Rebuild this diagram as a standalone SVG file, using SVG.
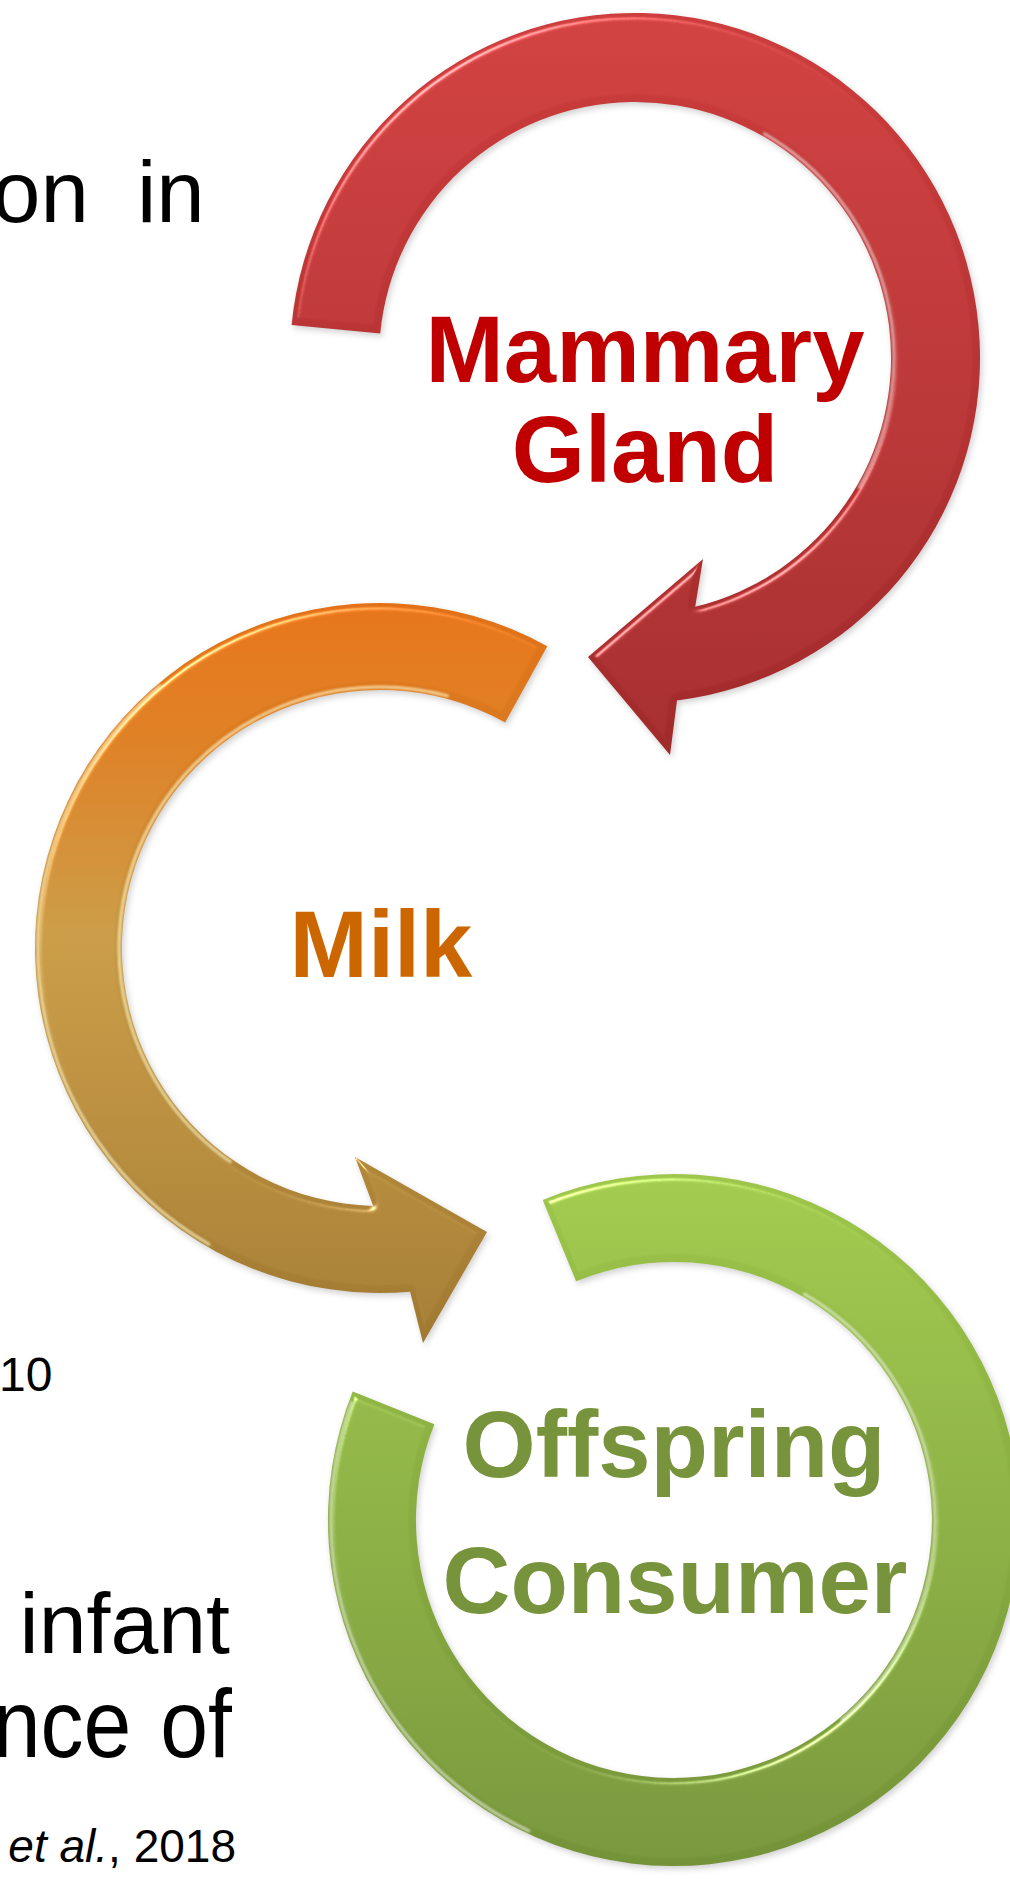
<svg xmlns="http://www.w3.org/2000/svg" width="1010" height="1879" viewBox="0 0 1010 1879">
  <style>
    .bg { font-family: "Liberation Sans", Arial, sans-serif; fill: #000; }
    .lbl { font-family: "Liberation Sans", Arial, sans-serif; font-weight: bold; font-size: 94px; text-anchor: middle; }
    .arrow { filter: url(#bevel); }
    .hl { fill: none; stroke: #FFFFFF; stroke-width: 3; stroke-linecap: round; stroke-opacity: 0.55; filter: url(#soft); }
    .hly { fill: none; stroke: #FFF6C8; stroke-width: 3; stroke-linecap: round; stroke-opacity: 0.7; filter: url(#soft); }
  </style>
  <defs>
    <linearGradient id="gRed" gradientUnits="userSpaceOnUse" x1="0" y1="10" x2="0" y2="760">
      <stop offset="0" stop-color="#CD3D3D"/>
      <stop offset="1" stop-color="#A12A2B"/>
    </linearGradient>
    <linearGradient id="gOrange" gradientUnits="userSpaceOnUse" x1="0" y1="600" x2="0" y2="1345">
      <stop offset="0" stop-color="#E27016"/>
      <stop offset="0.18" stop-color="#DA7B20"/>
      <stop offset="0.45" stop-color="#C69843"/>
      <stop offset="1" stop-color="#A07931"/>
    </linearGradient>
    <linearGradient id="gGreen" gradientUnits="userSpaceOnUse" x1="0" y1="1175" x2="0" y2="1870">
      <stop offset="0" stop-color="#9DC64A"/>
      <stop offset="1" stop-color="#749238"/>
    </linearGradient>
    <filter id="bevel" x="-10%" y="-10%" width="120%" height="120%" color-interpolation-filters="sRGB">
      <feGaussianBlur in="SourceAlpha" stdDeviation="3" result="b"/>
      <feSpecularLighting in="b" surfaceScale="5" specularConstant="1" specularExponent="40" lighting-color="#ffffff" result="s">
        <feDistantLight azimuth="235" elevation="45"/>
      </feSpecularLighting>
      <feComposite in="s" in2="SourceAlpha" operator="in" result="si"/>
      <feComposite in="SourceGraphic" in2="si" operator="arithmetic" k1="0" k2="1" k3="0.55" k4="0" result="lit"/>
      <feGaussianBlur in="SourceAlpha" stdDeviation="3" result="sb"/>
      <feOffset in="sb" dx="2" dy="3" result="so"/>
      <feFlood flood-color="#000000" flood-opacity="0.18"/>
      <feComposite in2="so" operator="in" result="shadow"/>
      <feMerge>
        <feMergeNode in="shadow"/>
        <feMergeNode in="lit"/>
      </feMerge>
    </filter>
    <filter id="soft" x="-5%" y="-5%" width="110%" height="110%">
      <feGaussianBlur stdDeviation="0.8"/>
    </filter>
  </defs>

  <g id="background-text">
    <text class="bg" x="-8" y="222" font-size="87" word-spacing="24">on in</text>
    <text class="bg" x="-1" y="1391" font-size="48">10</text>
    <text class="bg" x="230" y="1653" font-size="86" text-anchor="end">infant</text>
    <text class="bg" x="232" y="1757" font-size="86" text-anchor="end" word-spacing="5" transform="translate(0,1757) scale(1,1.12) translate(0,-1757)">nce of</text>
    <text class="bg" x="236" y="1862" font-size="46" text-anchor="end"><tspan font-style="italic">et al.</tspan>, 2018</text>
  </g>

  <g id="connectors"></g>

  <g id="node-mammary-gland">
    <path class="arrow" fill="url(#gRed)" d="M 291.6 324.9 A 345 345 0 1 1 677 700.4 L 670 755 L 588 657 L 703 559 L 695.2 606.8 A 256 256 0 1 0 380.2 333.5 Z"/>
    <path class="hl" d="M 764.5 133.7 A 259 259 0 0 1 859.3 487.5"/>
    <text class="lbl" fill="#C00000" x="645" y="382">Mammary</text>
    <text class="lbl" fill="#C00000" x="645" y="482">Gland</text>
  </g>

  <g id="node-milk">
    <path class="arrow" fill="url(#gOrange)" d="M 547.3 646.3 A 345 345 0 1 0 410.1 1291.7 L 423 1343 L 487 1232 L 355 1157 L 373.2 1205.9 A 258 258 0 1 1 505.1 722.4 Z"/>
    <path class="hly" d="M 447.5 695.9 A 261 261 0 0 0 230.3 1161.8"/>
    <path class="hly" d="M 160.2 686 A 342 342 0 0 0 209 1244.2"/>
    <text class="lbl" fill="#CC6600" x="381" y="977">Milk</text>
  </g>

  <g id="node-offspring-consumer">
    <path class="arrow" fill="url(#gGreen)" d="M 542.7 1199.9 A 346 346 0 1 1 352.7 1391.5 L 434.4 1424.2 A 258 258 0 1 0 576.1 1281.3 Z"/>
    <path class="hl" d="M 351.7 1402.7 A 343 343 0 0 0 529 1830.9"/>
    <path class="hl" d="M 804.5 1294 A 261 261 0 0 1 841.8 1719.9"/>
    <text class="lbl" fill="#77933C" x="674" y="1477">Offspring</text>
    <text class="lbl" fill="#77933C" x="675" y="1613">Consumer</text>
  </g>
</svg>
